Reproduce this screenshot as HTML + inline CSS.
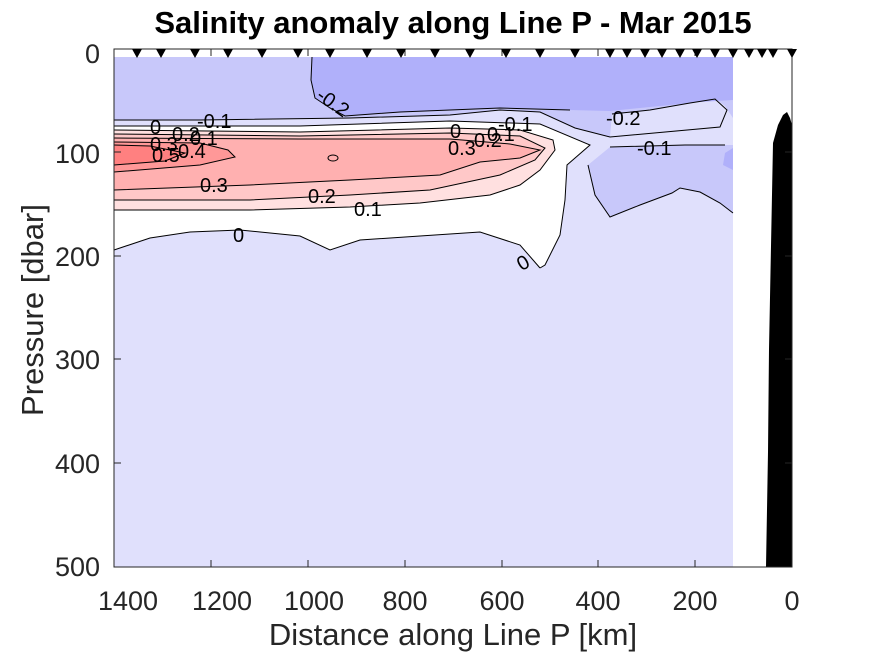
<!DOCTYPE html>
<html><head><meta charset="utf-8"><style>
html,body{margin:0;padding:0;background:#fff;}
svg{display:block;font-family:"Liberation Sans",sans-serif;}
</style></head><body>
<svg width="875" height="656" viewBox="0 0 875 656" xmlns="http://www.w3.org/2000/svg">
<rect width="875" height="656" fill="#fff"/>
<rect x="114" y="57" width="619" height="510" fill="#e0e0fc"/>
<polygon fill="#c8c8fa" points="114,57 733,57 733,118 725,106 715,99 690,103 650,110 612,114 610,137 575,128 540,112 500,110 450,115 350,118 200,120 114,120"/>
<polygon fill="#b0b0fa" points="312,57 733,57 733,100 700,102 650,107 610,111 570,110 500,108 400,112 345,116 330,108 315,98 311,80"/>
<polygon fill="#c8c8fa" points="610,147 685,145 725,145 733,145 733,213 720,203 700,192 680,188 672,193 640,205 610,217 595,195 590,170 588,165"/>
<polygon fill="#b0b0fa" points="733,148 725,153 723,165 733,170"/>
<polygon fill="#ffffff" points="114,126 300,126 450,121 540,124 590,145 567,165 565,200 560,235 545,265 540,268 520,245 480,232 420,236 360,240 330,250 300,236 240,230 190,232 150,238 114,250"/>
<polygon fill="#ffe0e0" points="114,130 300,132 450,128 520,130 553,140 555,150 540,170 520,185 490,195 420,203 350,207 250,210 114,210"/>
<polygon fill="#ffc8c8" points="114,134 300,136 450,133 520,136 545,148 535,160 500,175 430,190 350,195 250,200 114,200"/>
<polygon fill="#ffb0b0" points="114,138 300,139 450,139 510,144 540,150 520,158 480,162 440,175 350,180 250,185 114,190"/>
<polygon fill="#ff9898" points="114,142 200,143 228,150 235,157 200,165 114,172"/>
<polygon fill="#ff8080" points="114,145 150,146 185,153 165,161 114,165"/>
<g fill="none" stroke="#000" stroke-width="1">
<polyline points="114,120 200,120 350,118 450,115 500,110 540,112 575,128 610,137 720,127 727,110 715,99 690,103 650,110 612,114"/>
<polyline points="312,57 311,80 315,98 330,108 345,116 400,112 500,108 570,110"/>
<polyline points="610,147 685,145 725,145"/>
<polyline points="588,165 595,195 610,217 640,205 672,193 680,188 700,192 720,203 733,213"/>
<polyline points="114,126 300,126 450,121 540,124 590,145 567,165 565,200 560,235 545,265 540,268"/>
<polyline points="540,268 520,245 480,232 420,236 360,240 330,250 300,236 240,230 190,232 150,238 114,250"/>
<polyline points="114,130 300,132 450,128 520,130 553,140 555,150 540,170 520,185 490,195 420,203 350,207 250,210 114,210"/>
<polyline points="114,134 300,136 450,133 520,136 545,148 535,160 500,175 430,190 350,195 250,200 114,200"/>
<polyline points="114,138 300,139 450,139 510,144 540,150 520,158 480,162 440,175 350,180 250,185 114,190"/>
<polyline points="114,142 200,143 228,150 235,157 200,165 114,172"/>
<polyline points="114,145 150,146 185,153 165,161 114,165"/>
<ellipse cx="333" cy="158" rx="5" ry="3"/>
</g>
<g font-size="20" fill="#000">
<text x="197" y="128">-0.1</text>
<text x="150" y="134">0</text>
<text x="172" y="141">0.2</text>
<text x="190" y="145">0.1</text>
<text x="150" y="151">0.3</text>
<text x="178" y="158">0.4</text>
<text x="152" y="162">0.5</text>
<text x="200" y="192">0.3</text>
<text x="308" y="203">0.2</text>
<text x="354" y="216">0.1</text>
<text x="233" y="242">0</text>
<text x="517" y="270" transform="rotate(-30 522 262)">0</text>
<text x="314" y="108" transform="rotate(35 330 105)">-0.2</text>
<text x="450" y="138">0</text>
<text x="448" y="155">0.3</text>
<text x="474" y="147">0.2</text>
<text x="487" y="141">0.1</text>
<text x="498" y="131">-0.1</text>
<text x="606" y="125">-0.2</text>
<text x="637" y="155">-0.1</text>
</g>
<polygon fill="#000" points="787,112 790,118 792,125 792,567 766,567 768,452 769,349 771,246 773,143 778,125 783,115"/>
<rect x="114" y="49" width="678" height="518" fill="none" stroke="#262626" stroke-width="1"/>
<g stroke="#262626" stroke-width="1">
<line x1="211" y1="567" x2="211" y2="560"/><line x1="308" y1="567" x2="308" y2="560"/><line x1="405" y1="567" x2="405" y2="560"/><line x1="502" y1="567" x2="502" y2="560"/><line x1="598" y1="567" x2="598" y2="560"/><line x1="695" y1="567" x2="695" y2="560"/>
<line x1="211" y1="49" x2="211" y2="56"/><line x1="308" y1="49" x2="308" y2="56"/><line x1="405" y1="49" x2="405" y2="56"/><line x1="502" y1="49" x2="502" y2="56"/><line x1="598" y1="49" x2="598" y2="56"/><line x1="695" y1="49" x2="695" y2="56"/>
<line x1="114" y1="152" x2="121" y2="152"/><line x1="114" y1="256" x2="121" y2="256"/><line x1="114" y1="359" x2="121" y2="359"/><line x1="114" y1="463" x2="121" y2="463"/>
<line x1="792" y1="152" x2="785" y2="152"/><line x1="792" y1="256" x2="785" y2="256"/><line x1="792" y1="359" x2="785" y2="359"/><line x1="792" y1="463" x2="785" y2="463"/>
</g>
<g fill="#000">
<path d="M132,49h10l-5,9z M156,49h10l-5,9z M190,49h10l-5,9z M223,49h10l-5,9z M257,49h10l-5,9z M293,49h10l-5,9z M325,49h10l-5,9z M362,49h10l-5,9z M396,49h10l-5,9z M430,49h10l-5,9z M465,49h10l-5,9z M501,49h10l-5,9z M535,49h10l-5,9z M570,49h10l-5,9z M605,49h10l-5,9z M622,49h10l-5,9z M640,49h10l-5,9z M657,49h10l-5,9z M675,49h10l-5,9z M692,49h10l-5,9z M710,49h10l-5,9z M728,49h10l-5,9z M744,49h10l-5,9z M757,49h10l-5,9z M768,49h10l-5,9z M787,49h10l-5,9z"/>
</g>
<g font-size="27" fill="#262626" text-anchor="middle">
<text x="128" y="610">1400</text><text x="222" y="610">1200</text><text x="314" y="610">1000</text><text x="405" y="610">800</text><text x="502" y="610">600</text><text x="598" y="610">400</text><text x="695" y="610">200</text><text x="792" y="610">0</text>
</g>
<g font-size="27" fill="#262626" text-anchor="end">
<text x="100" y="63">0</text><text x="100" y="163">100</text><text x="100" y="266">200</text><text x="100" y="369">300</text><text x="100" y="473">400</text><text x="100" y="576">500</text>
</g>
<text x="453" y="645" font-size="31" fill="#262626" text-anchor="middle">Distance along Line P [km]</text>
<text x="0" y="0" font-size="31" fill="#262626" text-anchor="middle" transform="translate(43,310) rotate(-90)">Pressure [dbar]</text>
<text x="453" y="33" font-size="31" font-weight="bold" fill="#000" text-anchor="middle">Salinity anomaly along Line P - Mar 2015</text>
</svg>
</body></html>
